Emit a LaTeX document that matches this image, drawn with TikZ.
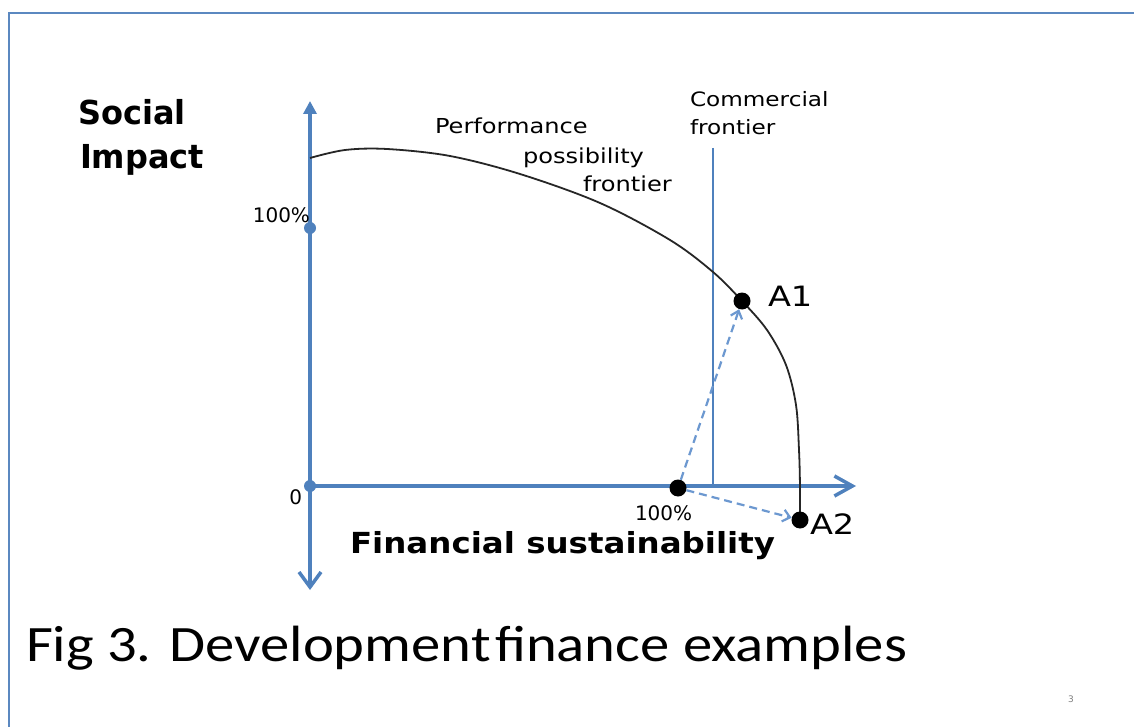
\documentclass[tikz,border=0pt]{standalone}
\usepackage{fontspec}
\usepackage{graphicx}
\setmainfont{DejaVu Sans}
\newfontfamily\calfont{Carlito}
\usetikzlibrary{arrows.meta}
\definecolor{axisblue}{HTML}{4F81BD}
\definecolor{dashblue}{HTML}{6C98D0}
\definecolor{framecol}{HTML}{5B88C0}
\newcommand\sx[2]{\scalebox{#1}[1]{#2}}
\newcommand\fs[1]{\fontsize{#1}{#1}\selectfont}
\begin{document}
\begin{tikzpicture}[x=1pt,y=-1pt,
  lbl/.style={anchor=base west, inner sep=0pt, outer sep=0pt},
  lble/.style={anchor=base east, inner sep=0pt, outer sep=0pt},
  axis/.style={axisblue, line width=3.5pt},
  dotblk/.style={circle, fill=black, minimum size=17pt, inner sep=0pt},
  dotblue/.style={circle, fill=axisblue, minimum size=12pt, inner sep=0pt},
  dasharrow/.style={dashblue, line width=2.2pt, dash pattern=on 8pt off 5pt, -{Straight Barb[length=7pt,width=12pt]}},
]
\useasboundingbox (0,0) rectangle (1134,727);
\fill[white] (0,0) rectangle (1134,727);
% frame
\draw[framecol, line width=2.5pt] (9,727) -- (9,13) -- (1134,13);

% axes
\node[dotblue] (O) at (310,486) {};
\node[dotblue] (Y100) at (310,228) {};
\coordinate (Ytop) at (310,101);
\coordinate (Ybot) at (310,590);
\coordinate (Xend) at (856,486);
\draw[axis, -{Triangle[length=13pt,width=13pt]}] (O.center) -- (Ytop);
\draw[axis, -{Straight Barb[length=15pt,width=22pt]}] (O.center) -- (Ybot);
\draw[axis, -{Straight Barb[length=18pt,width=20pt]}] (O.center) -- (Xend);

% commercial frontier line
\coordinate (Ctop) at (713,148);
\coordinate (Cbot) at (713,486);
\draw[axisblue, line width=2pt] (Ctop) -- (Cbot);

% performance possibility frontier curve
\draw[black!85, line width=1.8pt] plot[smooth, tension=0.55] coordinates {(310,158) (345,150) (387,149) (450,156) (520,174) (600,203) (670,240) (713,272) (742,301) (767,330) (786,365) (796,405) (799,450) (800,487) (800,520)};

% points
\node[dotblk] (P) at (678,488) {};
\node[dotblk] (A1) at (742,301) {};
\node[dotblk] (A2) at (800,520) {};
\draw[dasharrow] (P) -- (A1);
\draw[dasharrow] (P) -- (A2);

% labels
\node[lbl] (soc) at (78,125) {\fs{33}\bfseries\sx{0.97}{Social}};
\node[lbl] (imp) at (80,169) {\fs{33}\bfseries\sx{0.97}{Impact}};
\node[lbl] (perf1) at (435,134) {\fs{20.6}\sx{1.17}{Performance}};
\node[lbl] (perf2) at (523,164) {\fs{20.6}\sx{1.17}{possibility}};
\node[lbl] (perf3) at (583,192) {\fs{20.6}\sx{1.17}{frontier}};
\node[lbl] (com1) at (690,107) {\fs{19.8}\sx{1.17}{Commercial}};
\node[lbl] (com2) at (690,135) {\fs{19.8}\sx{1.17}{frontier}};
\node[lble] (l100y) at (310,223) {\fs{20}100\%};
\node[lble] (l0) at (302,504) {\fs{20}0};
\node[lbl] (l100x) at (635,520) {\fs{20}100\%};
\node[lbl] (lA1) at (768,306) {\fs{28}\sx{1.2}{A1}};
\node[lbl] (lA2) at (810,534) {\fs{28}\sx{1.2}{A2}};
\node[lbl] (xlab) at (350,553) {\fs{29}\bfseries\sx{1.12}{Financial sustainability}};
\node[lbl] (title) at (26,661) {\calfont\fs{51}\sx{1.15}{Fig 3. Development\kern-0.15em\ finance examples}};
\node[lbl] (pg) at (1068,702) {\fs{9}\color{gray}3};
\end{tikzpicture}
\end{document}
